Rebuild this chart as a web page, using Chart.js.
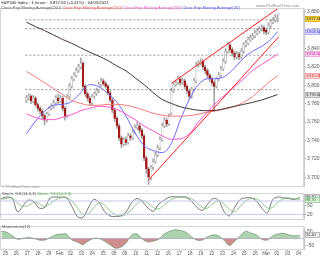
<!DOCTYPE html>
<html><head><meta charset="utf-8">
<script src="https://cdn.jsdelivr.net/npm/chart.js@4/dist/chart.umd.min.js"></script>
<style>
html,body{margin:0;padding:0;background:#fff;width:320px;height:256px;overflow:hidden;font-family:"Liberation Sans",Arial,sans-serif}
canvas{position:absolute;left:0}
.t{position:absolute;white-space:nowrap;font-size:4.2px;line-height:5px}
</style></head><body>
<canvas id="cMain" width="320" height="190" style="top:0"></canvas>
<canvas id="cSto" width="320" height="33" style="top:190px"></canvas>
<canvas id="cMom" width="320" height="33" style="top:223px"></canvas>
<div class="t" style="left:1px;top:0px;color:#222">S&amp;P500 Index · 1 heure · 3,872.56 (+0.41%) · 04/03/2021</div>
<div class="t" style="left:1px;top:4.5px"><span style="color:#555">Close Exp Moving Average(200)</span> <span style="color:#ee4444">Close Exp Moving Average(100)</span> <span style="color:#ee44bb">Close Exp Moving Average(50)</span> <span style="color:#4444ee">Close Exp Moving Average(20)</span></div>
<div class="t" style="left:256px;top:3px;color:#888">www.ProRealTime.com</div>
<div class="t" style="left:2px;top:184px;color:#999">© ProRealTime.com</div>
<div class="t" style="left:2px;top:191px"><span style="color:#555">Stoch. %K(14,3,3)</span> <span style="color:#55aa55">Stoch. %D(14,3,3)</span></div>
<div class="t" style="left:2px;top:224px;color:#555">Momentum(12)</div>
<script>
// ---------- DATA ----------
const dayLabels = ["25","26","27","28","29","Feb","02","03","04","05","08","09","10","11","12","16","17","18","19","22","23","24","25","26","Mar","02","03","04"];
const opens = [3784,3786,3788,3783,3786,3779,3775,3772,3767,3762,
3769,3775,3777,3781,3786,3783,3786,3775,3767,3788,
3799,3807,3811,3816,3820,3824,3799,3791,3786,3781,
3788,3791,3794,3801,3805,3802,3799,3792,3784,3773,
3764,3756,3743,3736,3741,3738,3745,3743,3749,3754,
3756,3751,3745,3721,3709,3700,3711,3717,3724,3732,
3741,3756,3762,3758,3770,3794,3801,3803,3807,3803,
3805,3799,3794,3788,3796,3805,3822,3824,3826,3820,
3816,3811,3807,3803,3799,3807,3811,3818,3826,3837,
3844,3839,3835,3831,3834,3831,3837,3844,3846,3850,
3852,3854,3857,3859,3861,3863,3860,3858,3865,3869,
3871,3871];
const closes = [3786,3788,3783,3786,3779,3775,3772,3767,3762,3769,
3775,3777,3781,3786,3783,3786,3775,3767,3788,3799,
3807,3811,3816,3820,3824,3799,3791,3786,3781,3788,
3791,3794,3801,3805,3802,3799,3792,3784,3773,3764,
3756,3743,3736,3741,3738,3745,3743,3749,3754,3756,
3751,3745,3721,3709,3700,3711,3717,3724,3732,3741,
3756,3762,3758,3766,3794,3801,3803,3807,3803,3805,
3799,3794,3788,3796,3805,3822,3824,3826,3820,3816,
3811,3807,3803,3799,3807,3811,3818,3826,3837,3844,
3839,3835,3831,3834,3831,3837,3844,3846,3850,3852,
3854,3857,3859,3861,3863,3859,3858,3865,3869,3871,
3874,3872.56];
const highs = [3789,3791,3790,3789,3788,3781,3777,3774,3769,3771,
3777,3780,3784,3789,3790,3789,3788,3777,3790,3802,
3810,3814,3819,3823,3830,3826,3801,3793,3788,3790,
3793,3797,3804,3808,3807,3804,3801,3794,3786,3775,
3766,3758,3745,3743,3744,3748,3747,3752,3757,3760,
3758,3753,3747,3723,3711,3713,3720,3727,3735,3744,
3759,3765,3764,3769,3797,3804,3806,3810,3809,3808,
3807,3801,3796,3798,3808,3825,3827,3829,3828,3822,
3818,3813,3809,3805,3809,3814,3821,3829,3840,3847,
3846,3841,3837,3837,3836,3840,3847,3849,3853,3855,
3857,3860,3862,3864,3866,3865,3862,3868,3872,3874,
3877,3877];
const lows = [3781,3784,3780,3781,3777,3772,3769,3763,3757,3760,
3767,3773,3775,3779,3780,3781,3772,3762,3765,3786,
3797,3805,3809,3814,3818,3796,3788,3783,3778,3779,
3786,3789,3792,3799,3800,3797,3790,3782,3770,3761,
3753,3740,3732,3734,3735,3736,3740,3741,3747,3752,
3748,3742,3718,3704,3692,3697,3708,3715,3722,3730,
3739,3754,3755,3756,3768,3792,3799,3801,3800,3801,
3796,3791,3785,3786,3794,3803,3820,3822,3817,3813,
3808,3804,3800,3772,3797,3805,3809,3816,3824,3835,
3836,3832,3828,3829,3828,3829,3835,3842,3844,3848,
3850,3852,3855,3857,3859,3856,3855,3856,3863,3867,
3869,3869];
const maIdx = [0,4,8,12,16,20,24,28,32,36,40,44,48,52,56,60,64,68,72,76,80,84,88,92,96,100,104,108,111];
const ema200 = [3868.8,3864.0,3859.7,3854.9,3850.0,3845.8,3840.9,3836.1,3831.8,3827.0,3821.1,3815.8,3808.3,3800.8,3792.2,3784.7,3780.4,3776.7,3774.5,3772.9,3772.4,3772.9,3775.0,3777.2,3779.3,3781.5,3784.1,3787.4,3790.0];
const ema100 = [3815.2,3809.3,3802.9,3796.5,3790.0,3783.6,3780.4,3778.3,3778.3,3779.3,3779.3,3778.3,3776.1,3772.9,3769.7,3767.5,3766.5,3766.5,3767.0,3768.6,3770.8,3772.4,3774.5,3777.2,3781.5,3787.9,3796.5,3805.0,3810.4];
const ema50 = [3769.1,3764.9,3762.7,3762.7,3765.4,3768.1,3772.4,3775.0,3777.2,3776.6,3774.0,3768.6,3762.7,3755.8,3750.4,3745.0,3741.3,3741.8,3747.2,3760.0,3770.8,3781.5,3790.0,3798.6,3807.2,3816.3,3822.7,3829.2,3834.0];
const ema20 = [3747.2,3761.1,3771.8,3778.3,3779.3,3782.5,3792.2,3800.8,3798.6,3791.1,3781.5,3766.5,3748.3,3734.3,3729.0,3726.8,3736.5,3762.2,3784.7,3800.8,3807.2,3807.2,3810.4,3819.0,3829.7,3837.2,3842.5,3850.0,3858.6];
const levels = [3871.4,3861.8,3832.9,3795.4];
const upperTrendX = [64,111.5], upperTrendY = [3802.0,3884.3];
const lowerTrendX = [54,111.5], lowerTrendY = [3697.0,3852.8];
const priceTicks = [3700,3720,3740,3760,3780,3800,3820,3840,3860,3880];
const oscIdx = [0,2,4,6,8,10,12,14,16,18,20,22,24,26,28,30,32,34,36,38,40,42,44,46,48,50,52,54,56,58,60,62,64,66,68,70,72,74,76,78,80,82,84,86,88,90,92,94,96,98,100,102,104,106,108,110];
const stochK = [91,98,91,31,59,84,77,48,52,94,98,97,94,55,10,6,48,87,73,34,13,10,13,31,73,91,77,48,34,66,84,98,99,98,97,80,52,38,66,91,84,34,13,52,87,94,94,80,48,27,87,98,94,91,87,96.1];
const stochD = [88,92,94,70,55,60,75,68,55,68,85,96,96,80,50,20,22,50,72,62,36,18,12,20,42,68,82,70,50,45,62,82,94,98,98,90,72,52,48,68,82,68,40,32,55,80,92,90,72,48,52,75,92,94,90,88.3];
const stochTicks = [20,40,60,80];
const stochBands = [80,20];
const momentum = [50,44,19,-6,0,6,0,-12,-12,6,25,31,31,-12,-25,-44,-19,0,0,-19,-44,-69,-62,-31,25,31,-6,-25,-19,-6,31,50,62,56,44,12,-12,-12,12,25,19,-12,-50,-19,19,50,37,25,-6,-12,19,31,37,25,19,20.4];
const momTicks = [-50,50];

// ---------- HELPERS ----------
const FONT = '"Liberation Sans", Arial, sans-serif';
const XMIN = -0.5, XMAX = 111.5, AXW = 16;
const fmt2 = v => v.toLocaleString('en-US',{minimumFractionDigits:2,maximumFractionDigits:2});
const pts = (xs, ys) => xs.map((x,k)=>({x, y: ys[k]}));
function frame(){ return {id:'frame', beforeDatasetsDraw(ch){const a=ch.chartArea,c=ch.ctx;c.save();c.strokeStyle='#d4d4d4';c.lineWidth=1;c.strokeRect(Math.round(a.left)+0.5,Math.round(a.top)-0.5,Math.round(a.right-a.left)-1,Math.round(a.bottom-a.top)+1);c.restore();}}; }
function boxes(items){ return {id:'boxes', afterDraw(ch){const y=ch.scales.y,c=ch.ctx;c.save();items.forEach(it=>{const py=Math.round(y.getPixelForValue(it.v));c.fillStyle=it.bg;c.fillRect(305,py-3,15,6);c.strokeStyle=it.bd;c.lineWidth=0.6;c.strokeRect(305.5,py-2.5,14,5);c.fillStyle=it.fg;c.font='3.8px '+FONT;c.textBaseline='middle';c.fillText(it.t,306.2,py+0.3);});c.restore();}}; }
function yAxis(min,max,ticks,cb){ return {type:'linear',position:'right',min,max,
  afterBuildTicks:s=>{s.ticks=ticks.map(v=>({value:v}));},
  afterFit:s=>{s.width=AXW;},
  ticks:{font:{size:5,family:FONT},color:'#555',padding:1,callback:cb},
  grid:{drawOnChartArea:false,tickLength:2,color:'#aaa'},border:{color:'#c8c8c8'}}; }
const base = {responsive:false,animation:false,devicePixelRatio:1,events:[],
  plugins:{legend:{display:false},tooltip:{enabled:false}}};

// ---------- MAIN ----------
const idx = opens.map((_,i)=>i);
const up = i => closes[i] >= opens[i];
const mainDs = [
  {type:'bar',data:idx.map(i=>({x:i,y:[lows[i],highs[i]]})),backgroundColor:'#a6a6a6',barThickness:1,grouped:false,order:5},
  {type:'bar',data:idx.map(i=>({x:i,y:[opens[i],closes[i]]})),
   backgroundColor:c=>up(c.dataIndex)?'#fbfbfb':'#a41818',
   borderColor:c=>up(c.dataIndex)?'#9c9c9c':'#a41818',borderWidth:0.4,borderSkipped:false,
   barThickness:1.8,grouped:false,order:4},
];
levels.forEach(v=>mainDs.push({type:'line',data:[{x:XMIN,y:v},{x:XMAX,y:v}],borderColor:'#777',borderWidth:0.8,borderDash:[2,2],pointRadius:0,order:3}));
[[ema200,'#4a3434'],[ema100,'#f47878'],[ema50,'#ff55cc'],[ema20,'#6a6aff']].forEach(([arr,col])=>
  mainDs.push({type:'line',data:pts(maIdx,arr),borderColor:col,borderWidth:1,pointRadius:0,cubicInterpolationMode:'monotone',order:2}));
mainDs.push({type:'line',data:pts(upperTrendX,upperTrendY),borderColor:'#ff2020',borderWidth:1,pointRadius:0,order:1});
mainDs.push({type:'line',data:pts(lowerTrendX,lowerTrendY),borderColor:'#ff2020',borderWidth:1,pointRadius:0,order:1});

new Chart(document.getElementById('cMain'),{data:{datasets:mainDs},
  options:{...base,layout:{padding:{top:9,bottom:1,left:0,right:0}},
    scales:{x:{type:'linear',min:XMIN,max:XMAX,display:false},
      y:yAxis(3690.4,3883.2,priceTicks,v=>v.toLocaleString('en-US'))}},
  plugins:[frame(),boxes([
    {v:closes[closes.length-1],t:fmt2(closes[closes.length-1]),bg:'#ffd84a',bd:'#c9a400',fg:'#222'},
    {v:ema20[ema20.length-1],t:fmt2(ema20[ema20.length-1]),bg:'#dedcff',bd:'#9a9aee',fg:'#3333cc'},
    {v:ema50[ema50.length-1],t:fmt2(ema50[ema50.length-1]),bg:'#ffd6f2',bd:'#f08ad6',fg:'#cc2299'},
    {v:ema100[ema100.length-1],t:fmt2(ema100[ema100.length-1]),bg:'#ffd8d8',bd:'#f09090',fg:'#cc3333'},
    {v:ema200[ema200.length-1],t:fmt2(ema200[ema200.length-1]),bg:'#e2e2e2',bd:'#999',fg:'#333'}])]});

// ---------- STOCHASTIC ----------
const stoDs = stochBands.map(v=>({type:'line',data:[{x:XMIN,y:v},{x:XMAX,y:v}],borderColor:'#c6c6f0',borderWidth:1,pointRadius:0}));
stoDs.push({type:'line',data:pts(oscIdx,stochD),borderColor:'#6cc06c',borderWidth:0.8,pointRadius:0,tension:0.35});
stoDs.push({type:'line',data:pts(oscIdx,stochK),borderColor:'#555',borderWidth:0.8,pointRadius:0,tension:0.35});
new Chart(document.getElementById('cSto'),{data:{datasets:stoDs},
  options:{...base,layout:{padding:{top:1,bottom:0,left:0,right:0}},
    scales:{x:{type:'linear',min:XMIN,max:XMAX,display:false},
      y:yAxis(-1,111.6,stochTicks,v=>String(v))}},
  plugins:[frame(),boxes([
    {v:stochK[stochK.length-1],t:fmt2(stochK[stochK.length-1]),bg:'#e4e4e4',bd:'#999',fg:'#333'},
    {v:stochD[stochD.length-1]-4,t:fmt2(stochD[stochD.length-1]),bg:'#dcf2dc',bd:'#7cc07c',fg:'#2a7a2a'}])]});

// ---------- MOMENTUM ----------
const dayCenters = dayLabels.map((_,d)=>d*4+1.5);
const momDs = [
  {type:'line',data:[{x:XMIN,y:0},{x:XMAX,y:0}],borderColor:'#c6c6f0',borderWidth:1,pointRadius:0,order:2},
  {type:'line',data:pts(oscIdx,momentum),borderColor:'#6f8f6f',borderWidth:0.7,pointRadius:0,tension:0.3,
   fill:{target:{value:0},above:'rgba(90,170,90,0.5)',below:'rgba(165,50,50,0.55)'},order:1}
];
new Chart(document.getElementById('cMom'),{data:{datasets:momDs},
  options:{...base,layout:{padding:{top:1,bottom:0,left:0,right:0}},
    scales:{x:{type:'linear',min:XMIN,max:XMAX,
        afterBuildTicks:s=>{s.ticks=dayCenters.map(v=>({value:v}));},
        afterFit:s=>{s.height=7;},
        ticks:{font:{size:4.5,family:FONT},color:'#555',padding:0,autoSkip:false,maxRotation:0,callback:(v,i)=>dayLabels[i]},
        grid:{drawOnChartArea:false,tickLength:2,color:'#aaa'},border:{color:'#c8c8c8'}},
      y:yAxis(-75,81,momTicks,v=>String(v))}},
  plugins:[frame(),boxes([
    {v:momentum[momentum.length-1]+5,t:fmt2(momentum[momentum.length-1]),bg:'#eeeeee',bd:'#999',fg:'#333'}])]});
</script>
</body></html>
